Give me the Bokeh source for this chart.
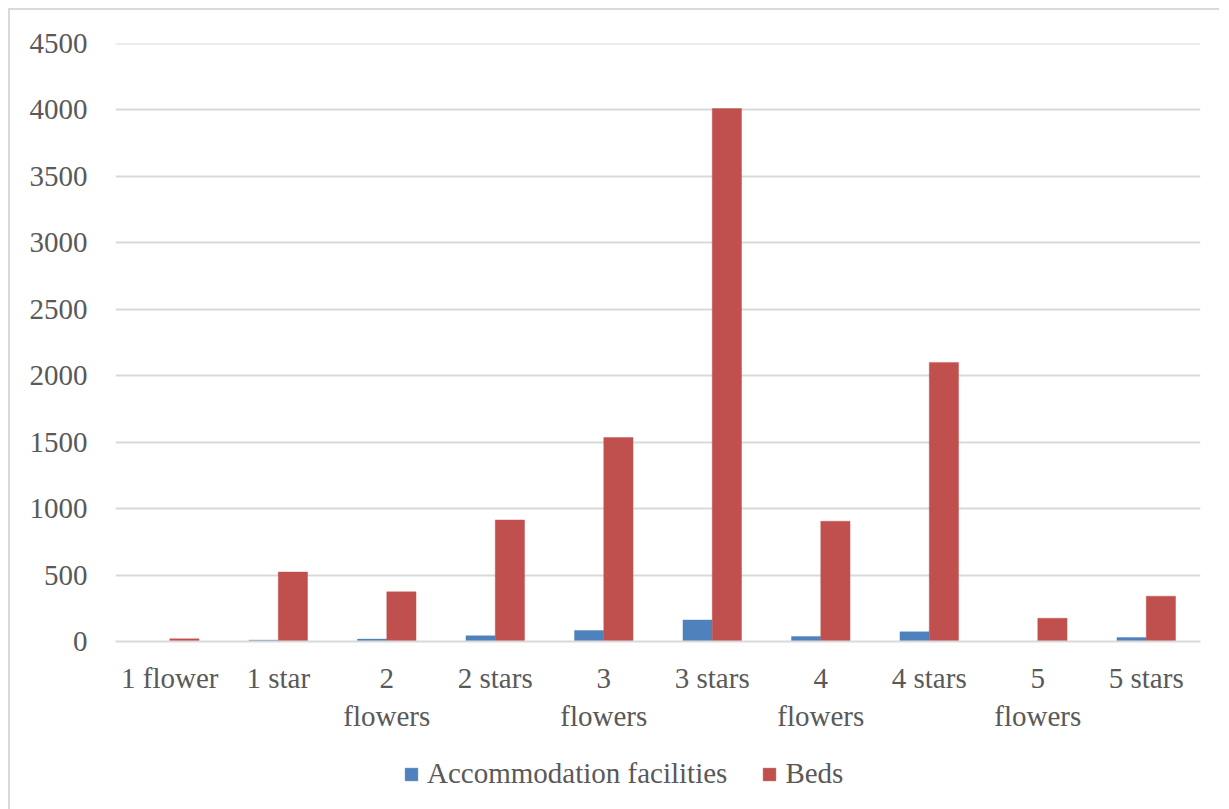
from bokeh.plotting import figure
from bokeh.layouts import column
from bokeh.models import ColumnDataSource, Legend, LegendItem, FixedTicker, Range1d
from bokeh.transform import dodge
from bokeh.embed import file_html
from bokeh.resources import INLINE

categories = ["1 flower", "1 star", "2\nflowers", "2 stars", "3\nflowers",
              "3 stars", "4\nflowers", "4 stars", "5\nflowers", "5 stars"]
facilities = [0, 10, 18, 43, 83, 162, 38, 73, 0, 30]
beds = [20, 523, 374, 915, 1535, 4010, 905, 2100, 175, 341]
y_ticks = [0, 500, 1000, 1500, 2000, 2500, 3000, 3500, 4000, 4500]
series_names = ["Accommodation facilities", "Beds"]
series_colors = ["#4f81bd", "#c0504d"]

FONT = "Liberation Serif"
TXT = "#595959"
GRID = "#d9d9d9"

src = ColumnDataSource(dict(cat=categories, fac=facilities, beds=beds))

p = figure(x_range=categories, y_range=Range1d(0, 4500),
           frame_width=1085, frame_height=598,
           output_backend="svg", toolbar_location=None,
           min_border_left=105, min_border_right=19, min_border_top=33, min_border_bottom=90)
p.outline_line_color = None
p.x_range.range_padding = 0

p.vbar(x=dodge("cat", -0.135, range=p.x_range), top="fac", width=0.27, source=src,
       fill_color=series_colors[0], line_color=series_colors[0], line_alpha=0.4)
p.vbar(x=dodge("cat", 0.135, range=p.x_range), top="beds", width=0.27, source=src,
       fill_color=series_colors[1], line_color=series_colors[1], line_alpha=0.4)

p.yaxis.ticker = FixedTicker(ticks=y_ticks)
p.yaxis.axis_line_color = None
p.yaxis.major_tick_line_color = None
p.yaxis.minor_tick_line_color = None
p.yaxis.major_label_standoff = 22
p.xaxis.axis_line_color = GRID
p.xaxis.axis_line_width = 2
p.xaxis.major_tick_line_color = None
p.xaxis.minor_tick_line_color = None
p.xaxis.major_label_standoff = 14
for ax in (p.xaxis, p.yaxis):
    ax.major_label_text_font = FONT
    ax.major_label_text_font_size = "29px"
    ax.major_label_text_color = TXT

p.xgrid.grid_line_color = None
p.ygrid.grid_line_color = GRID
p.ygrid.grid_line_width = 2

# top gridline at 4500 (frame edge)
p.hspan(y=[4500], line_color=GRID, line_width=2)

# legend strip below the chart
lf = figure(width=1209, height=78, x_range=Range1d(0, 1), y_range=Range1d(0, 1),
            x_axis_type=None, y_axis_type=None, output_backend="svg",
            toolbar_location=None, min_border=0)
lf.outline_line_color = None
items = []
for name, col in zip(series_names, series_colors):
    r = lf.vbar(x=[-10], top=[0], width=0.1, fill_color=col, line_color=col, line_alpha=0.4)
    items.append(LegendItem(label=name, renderers=[r]))

legend = Legend(items=items, orientation="horizontal", location=(288, 22),
                label_text_font=FONT, label_text_font_size="29px", label_text_color=TXT,
                glyph_width=16, glyph_height=16, spacing=34, label_standoff=8,
                border_line_color=None, background_fill_alpha=0, margin=0, padding=0)
lf.add_layout(legend, "center")

layout = column(p, lf, spacing=0)
layout.styles = {"margin": "8px 0 0 8px", "border-left": "2px solid #d9d9d9",
                 "border-top": "2px solid #d9d9d9"}

open("out.html", "w").write(file_html(layout, INLINE))
